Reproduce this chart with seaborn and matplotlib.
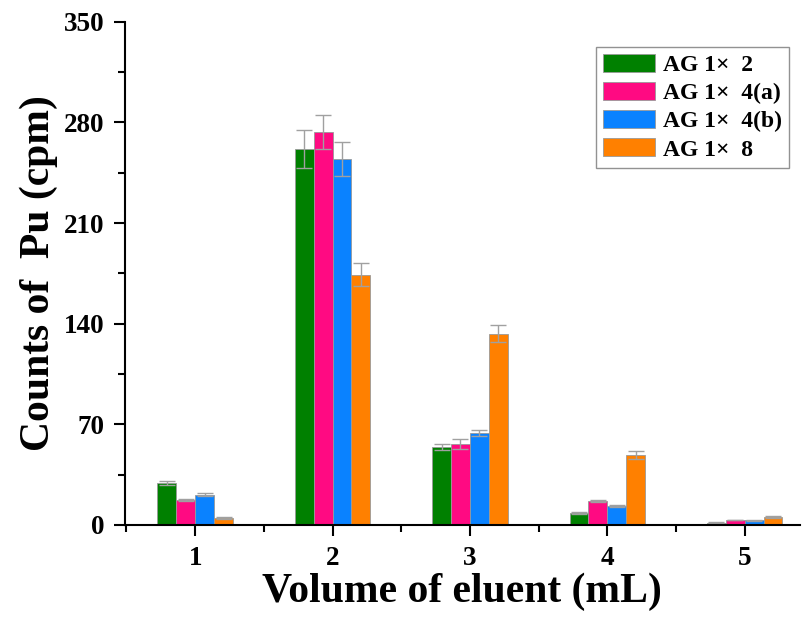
import seaborn as sns
import matplotlib.pyplot as plt
import pandas as pd
import numpy as np

sns.set_style("ticks")
plt.rcParams["font.family"] = ["Liberation Serif", "DejaVu Serif"]
plt.rcParams["font.weight"] = "bold"
plt.rcParams["text.color"] = "black"
plt.rcParams["axes.labelcolor"] = "black"
plt.rcParams["xtick.color"] = "black"
plt.rcParams["ytick.color"] = "black"

volumes = ["1", "2", "3", "4", "5"]
resins = ["AG 1×  2", "AG 1×  4(a)", "AG 1×  4(b)", "AG 1×  8"]
counts_x2 = [29.2, 261.5, 54.3, 8.4, 1.5]
counts_x4a = [17.4, 273.5, 56.4, 16.7, 3.5]
counts_x4b = [20.9, 254.7, 64.0, 13.2, 3.3]
counts_x8 = [4.9, 174.0, 133.0, 48.7, 5.5]
err_x2 = [1.5, 13.0, 2.0, 0.5, 0.3]
err_x4a = [1.0, 12.0, 3.5, 0.8, 0.3]
err_x4b = [1.0, 12.0, 2.0, 0.8, 0.3]
err_x8 = [0.5, 8.0, 6.0, 2.5, 0.5]
colors = ["#008000", "#ff0a82", "#0a82ff", "#ff8000"]

all_counts = [counts_x2, counts_x4a, counts_x4b, counts_x8]
all_err = [err_x2, err_x4a, err_x4b, err_x8]
df = pd.DataFrame({
    "volume": volumes * 4,
    "counts": sum(all_counts, []),
    "resin": np.repeat(resins, len(volumes)),
})

fig = plt.figure(figsize=(8.02, 6.22), dpi=100)
ax = fig.add_axes([0.156, 0.156, 0.841, 0.809])

sns.barplot(data=df, x="volume", y="counts", hue="resin", palette=colors,
            width=0.55, errorbar=None, edgecolor="#999999", linewidth=0.6,
            saturation=1, ax=ax)

# error bars on each bar
for cont, errs in zip(ax.containers, all_err):
    for patch, e in zip(cont, errs):
        xc = patch.get_x() + patch.get_width() / 2
        ax.errorbar(xc, patch.get_height(), yerr=e, fmt="none",
                    ecolor="#a0a0a0", elinewidth=1, capsize=6, capthick=1)

ax.set_xlim(-0.51, 4.4)
ax.set_ylim(0, 350)
ax.set_yticks(np.arange(0, 351, 70))
ax.set_yticks(np.arange(35, 350, 70), minor=True)
ax.set_xticks(np.arange(-0.5, 4.5, 1.0), minor=True)
ax.tick_params(axis="both", which="major", direction="out", length=8, width=1.5,
               pad=7)
ax.tick_params(axis="both", which="minor", direction="out", length=5, width=1.5)
for lab in ax.get_xticklabels() + ax.get_yticklabels():
    lab.set_fontweight("bold")
    lab.set_fontsize(19.5)

ax.set_xlabel("Volume of eluent (mL)", fontsize=30, fontweight="bold", labelpad=1)
ax.set_ylabel("Counts of  Pu (cpm)", fontsize=30, fontweight="bold", labelpad=4)

sns.despine(ax=ax)
for sp in ["left", "bottom"]:
    ax.spines[sp].set_linewidth(1.5)
    ax.spines[sp].set_color("black")

leg = ax.legend(loc="upper right", bbox_to_anchor=(0.985, 0.95), fontsize=17,
                frameon=True, fancybox=False, edgecolor="#777777",
                handlelength=2.2, handleheight=0.8, borderpad=0.3,
                labelspacing=0.25, handletextpad=0.35, borderaxespad=0)
leg.get_frame().set_linewidth(1.0)
for t in leg.get_texts():
    t.set_fontweight("bold")

fig.savefig("out.png", dpi=100)
